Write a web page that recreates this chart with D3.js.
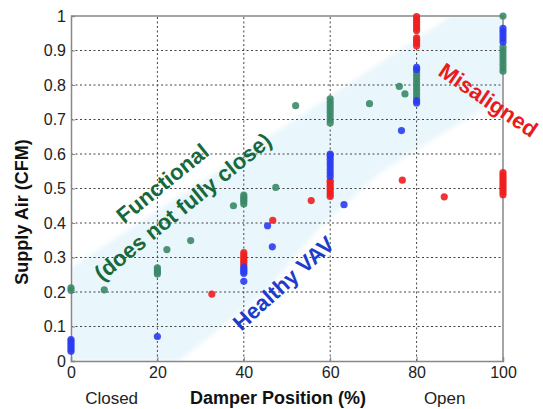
<!DOCTYPE html>
<html>
<head>
<meta charset="utf-8">
<script src="https://cdn.jsdelivr.net/npm/d3@7"></script>
<style>
body { margin: 0; background: #fff; }
svg { display: block; font-family: Arial, "Liberation Sans", sans-serif; }
</style>
</head>
<body>
<div id="chart"></div>
<script>
const xTicks = [0, 20, 40, 60, 80, 100]
const yTicks = [0, 0.1, 0.2, 0.3, 0.4, 0.5, 0.6, 0.7, 0.8, 0.9, 1]
const yTickLabels = ['0', '0.1', '0.2', '0.3', '0.4', '0.5', '0.6', '0.7', '0.8', '0.9', '1']

// [damper %, supply air]
const functional = [
	[0, 0.205], [0, 0.212], [7.7, 0.206],
	[20, 0.252], [20, 0.258], [20, 0.264], [20, 0.27],
	[22.2, 0.323], [27.7, 0.349], [37.6, 0.45],
	[40, 0.455], [40, 0.462], [40, 0.468], [40, 0.475], [40, 0.481],
	[47.4, 0.503], [52, 0.74],
	[60, 0.69], [60, 0.70], [60, 0.71], [60, 0.72], [60, 0.73], [60, 0.74], [60, 0.75], [60, 0.76],
	[69.1, 0.746], [76, 0.796], [77.3, 0.774],
	[80, 0.765], [80, 0.775], [80, 0.785], [80, 0.795], [80, 0.805], [80, 0.815], [80, 0.825], [80, 0.835],
	[100, 1.0], [100, 0.84], [100, 0.85], [100, 0.86], [100, 0.87], [100, 0.88], [100, 0.89], [100, 0.90], [100, 0.91]
]
const healthy = [
	[0, 0.028], [0, 0.035], [0, 0.042], [0, 0.049], [0, 0.056], [0, 0.062],
	[20, 0.071],
	[40, 0.231], [40, 0.254], [40, 0.26], [40, 0.266], [40, 0.272],
	[45.5, 0.392], [46.6, 0.331],
	[60, 0.535], [60, 0.545], [60, 0.555], [60, 0.565], [60, 0.575], [60, 0.585], [60, 0.595], [60, 0.60],
	[63.2, 0.453], [76.5, 0.668],
	[80, 0.748], [80, 0.755], [80, 0.845], [80, 0.851],
	[100, 0.925], [100, 0.935], [100, 0.945], [100, 0.955], [100, 0.964]
]
const misaligned = [
	[32.6, 0.194],
	[40, 0.279], [40, 0.286], [40, 0.293], [40, 0.3], [40, 0.307], [40, 0.314],
	[46.7, 0.408], [55.6, 0.465],
	[60, 0.477], [60, 0.485], [60, 0.493], [60, 0.501], [60, 0.509], [60, 0.517], [60, 0.523],
	[76.7, 0.524], [86.4, 0.476],
	[100, 0.482], [100, 0.49], [100, 0.498], [100, 0.506], [100, 0.514], [100, 0.522], [100, 0.53], [100, 0.538], [100, 0.546],
	[80, 0.914], [80, 0.922], [80, 0.93], [80, 0.937],
	[80, 0.958], [80, 0.966], [80, 0.974], [80, 0.982], [80, 0.99], [80, 0.998]
]
// shaded "healthy" band outline
const band = [
	[0, 0], [0, 0.27], [88, 1.0], [100, 1.0], [100, 0.76],
	[90, 0.69], [72, 0.55], [57, 0.38], [45, 0.2], [25, 0]
]

const width = 543, height = 409
const margin = {top: 16, right: 40, bottom: 48, left: 71}

const svg = d3.select('#chart').append('svg')
	.attr('width', width)
	.attr('height', height)

const x = d3.scaleLinear().domain([0, 100]).range([margin.left, width - margin.right])
const y = d3.scaleLinear().domain([0, 1]).range([height - margin.bottom, margin.top])

const defs = svg.append('defs')
defs.append('clipPath').attr('id', 'plotclip')
	.append('rect')
		.attr('x', x(0)).attr('y', y(1))
		.attr('width', x(100) - x(0)).attr('height', y(0) - y(1))
defs.append('filter').attr('id', 'soft')
	.append('feGaussianBlur').attr('stdDeviation', 2.5)

svg.append('g').attr('clip-path', 'url(#plotclip)')
	.append('path')
		.attr('d', d3.line().x(d => x(d[0])).y(d => y(d[1]))(band) + 'Z')
		.attr('fill', '#e9f6fb')
		.attr('filter', 'url(#soft)')

// dotted grid
const grid = svg.append('g')
	.attr('stroke', '#444')
	.attr('stroke-width', 1)
	.attr('stroke-dasharray', '2,2.5')
grid.selectAll('line.h')
	.data(yTicks.slice(1, -1))
	.enter().append('line')
		.attr('x1', x(0)).attr('x2', x(100))
		.attr('y1', d => y(d)).attr('y2', d => y(d))
grid.selectAll('line.v')
	.data(xTicks.slice(1, -1))
	.enter().append('line')
		.attr('y1', y(0)).attr('y2', y(1))
		.attr('x1', d => x(d)).attr('x2', d => x(d))

// axes
const xAxis = svg.append('g')
	.attr('transform', `translate(0,${y(0)})`)
	.call(d3.axisBottom(x).tickValues(xTicks).tickSize(-4).tickPadding(6))
const yAxis = svg.append('g')
	.attr('transform', `translate(${x(0)},0)`)
	.call(d3.axisLeft(y).tickValues(yTicks).tickFormat((d, i) => yTickLabels[i]).tickSize(-4).tickPadding(5))
for (const ax of [xAxis, yAxis]) {
	ax.selectAll('path, line').attr('stroke', '#888')
	ax.selectAll('path').attr('stroke-width', 1.5)
	ax.selectAll('text').attr('fill', '#222').attr('font-size', 16).attr('font-family', 'Arial, "Liberation Sans", sans-serif')
}
// box top and right
svg.append('path')
	.attr('d', `M${x(0)},${y(1)}H${x(100)}V${y(0)}`)
	.attr('fill', 'none')
	.attr('stroke', '#888')
	.attr('stroke-width', 1.5)

// points
const series = [
	{data: misaligned, colour: '#f01f1f'},
	{data: functional, colour: '#3c8a68'},
	{data: healthy, colour: '#2a3cf2'}
]
series.forEach(s => {
	svg.append('g').selectAll('circle')
		.data(s.data)
		.enter().append('circle')
			.attr('cx', d => x(d[0]))
			.attr('cy', d => y(d[1]))
			.attr('r', 3.6)
			.attr('fill', s.colour)
			.attr('fill-opacity', 0.9)
})

// annotations
const notes = [
	{text: 'Functional', at: [21.2, 0.515], angle: -39, colour: '#17683a'},
	{text: '(does not fully close)', at: [25.9, 0.447], angle: -39, colour: '#17683a'},
	{text: 'Healthy VAV', at: [49.2, 0.225], angle: -42, colour: '#1c3ccc'},
	{text: 'Misaligned', at: [96.6, 0.756], angle: 34, colour: '#e81c1c'}
]
svg.append('g').selectAll('text')
	.data(notes)
	.enter().append('text')
		.attr('transform', d => `translate(${x(d.at[0])},${y(d.at[1])}) rotate(${d.angle})`)
		.attr('text-anchor', 'middle')
		.attr('dominant-baseline', 'central')
		.attr('font-size', 22)
		.attr('font-weight', 'bold')
		.attr('fill', d => d.colour)
		.text(d => d.text)

// axis titles
svg.append('text')
	.attr('x', 278).attr('y', 404)
	.attr('text-anchor', 'middle')
	.attr('font-size', 18).attr('font-weight', 'bold').attr('fill', '#111')
	.text('Damper Position (%)')
svg.append('text')
	.attr('x', x(9.4)).attr('y', 404)
	.attr('text-anchor', 'middle')
	.attr('font-size', 17).attr('fill', '#222')
	.text('Closed')
svg.append('text')
	.attr('x', x(86.5)).attr('y', 404)
	.attr('text-anchor', 'middle')
	.attr('font-size', 17).attr('fill', '#222')
	.text('Open')
svg.append('text')
	.attr('transform', 'translate(28,212) rotate(-90)')
	.attr('text-anchor', 'middle')
	.attr('font-size', 18).attr('font-weight', 'bold').attr('fill', '#111')
	.text('Supply Air (CFM)')
</script>
</body>
</html>
